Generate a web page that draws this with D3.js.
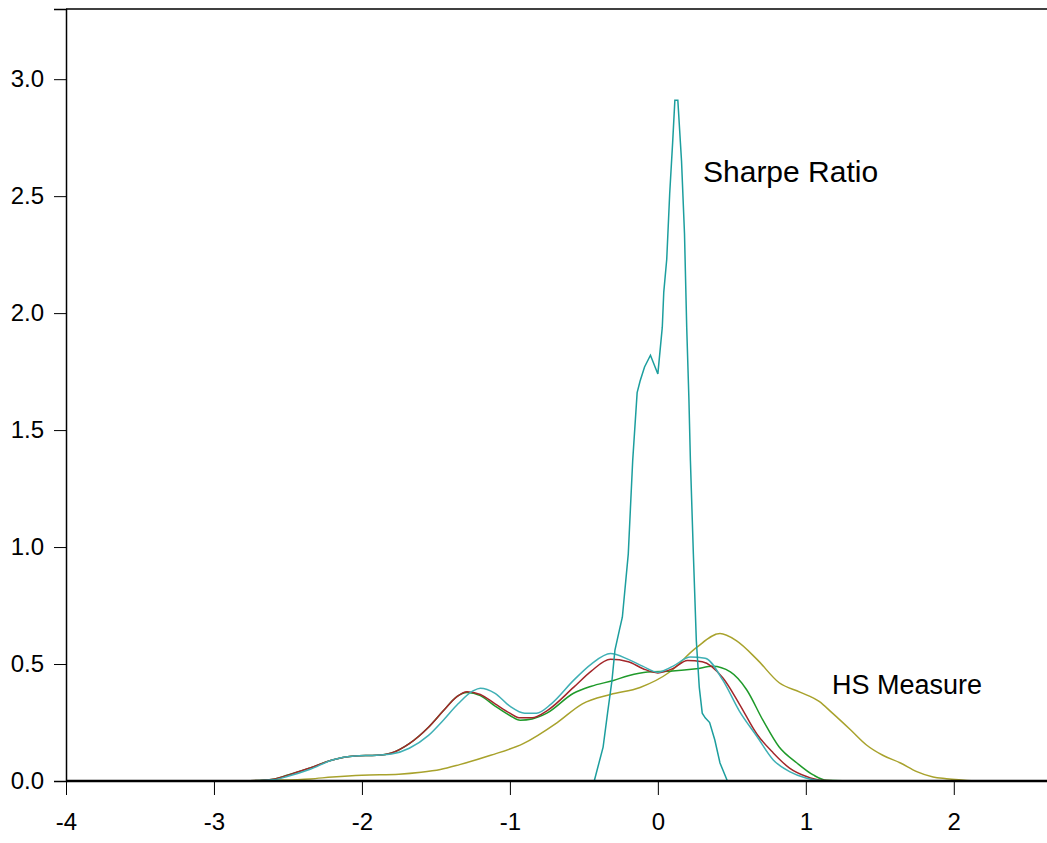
<!DOCTYPE html>
<html>
<head>
<meta charset="utf-8">
<script src="https://cdn.jsdelivr.net/npm/d3@7"></script>
<style>
  body { margin: 0; background: #fff; }
  svg { display: block; font-family: "Liberation Sans", Arial, sans-serif; }
  .tick line { stroke: #000; }
  .tick text { fill: #000; font-size: 24px; }
</style>
</head>
<body>
<svg id="chart" width="1047" height="843"></svg>
<script>
// tick labels
var xTicks = [-4, -3, -2, -1, 0, 1, 2];
var yTicks = [0, 0.5, 1.0, 1.5, 2.0, 2.5, 3.0];

// Sharpe Ratio (narrow, tall)
var sharpeX = [-0.43, -0.37, -0.34, -0.31, -0.29, -0.26, -0.24, -0.2, -0.17, -0.14, -0.12, -0.09, -0.05, 0.0, 0.03, 0.04, 0.06, 0.08, 0.1, 0.115, 0.135, 0.16, 0.18, 0.195, 0.21, 0.22, 0.24, 0.26, 0.28, 0.3, 0.32, 0.35, 0.385, 0.42, 0.47];
var sharpeY = [0, 0.145, 0.29, 0.43, 0.56, 0.645, 0.7, 0.97, 1.37, 1.66, 1.71, 1.77, 1.82, 1.74, 1.94, 2.09, 2.23, 2.51, 2.73, 2.91, 2.91, 2.65, 2.34, 1.94, 1.63, 1.37, 0.97, 0.6, 0.4, 0.29, 0.27, 0.25, 0.175, 0.077, 0];

// broad light teal
var tealX = [-2.8, -2.6, -2.5, -2.35, -2.2, -2.05, -1.9, -1.8, -1.68, -1.55, -1.45, -1.35, -1.25, -1.2, -1.1, -1.0, -0.9, -0.82, -0.72, -0.57, -0.45, -0.32, -0.2, -0.1, 0.0, 0.1, 0.22, 0.32, 0.44, 0.55, 0.67, 0.78, 0.89, 1.0, 1.1, 1.35];
var tealY = [0, 0.005, 0.02, 0.05, 0.09, 0.107, 0.11, 0.115, 0.14, 0.195, 0.26, 0.33, 0.385, 0.397, 0.375, 0.32, 0.29, 0.29, 0.33, 0.43, 0.5, 0.545, 0.52, 0.49, 0.465, 0.49, 0.53, 0.525, 0.43, 0.3, 0.19, 0.09, 0.04, 0.013, 0.002, 0];

// red
var redX = [-2.8, -2.6, -2.5, -2.35, -2.2, -2.05, -1.9, -1.8, -1.68, -1.55, -1.45, -1.36, -1.29, -1.2, -1.1, -1.0, -0.93, -0.85, -0.75, -0.57, -0.45, -0.32, -0.2, -0.1, 0.0, 0.1, 0.2, 0.3, 0.44, 0.55, 0.67, 0.78, 0.89, 1.0, 1.1, 1.3];
var redY = [0, 0.008, 0.025, 0.056, 0.09, 0.107, 0.11, 0.12, 0.16, 0.23, 0.3, 0.36, 0.382, 0.37, 0.33, 0.29, 0.27, 0.27, 0.3, 0.4, 0.47, 0.52, 0.51, 0.48, 0.462, 0.48, 0.515, 0.51, 0.44, 0.33, 0.2, 0.12, 0.055, 0.02, 0.003, 0];

// green
var greenX = [-2.8, -2.6, -2.5, -2.35, -2.2, -2.05, -1.9, -1.8, -1.68, -1.55, -1.45, -1.36, -1.29, -1.2, -1.1, -1.0, -0.93, -0.85, -0.75, -0.57, -0.45, -0.3, -0.2, -0.07, 0.1, 0.26, 0.37, 0.49, 0.6, 0.71, 0.82, 0.94, 1.05, 1.14, 1.4];
var greenY = [0, 0.008, 0.026, 0.056, 0.09, 0.107, 0.11, 0.12, 0.16, 0.23, 0.3, 0.36, 0.378, 0.365, 0.32, 0.28, 0.26, 0.265, 0.29, 0.375, 0.405, 0.43, 0.45, 0.466, 0.47, 0.48, 0.49, 0.466, 0.39, 0.26, 0.145, 0.077, 0.026, 0.003, 0];

// HS Measure (olive)
var hsX = [-2.85, -2.6, -2.35, -2.2, -2.0, -1.75, -1.6, -1.47, -1.34, -1.13, -0.91, -0.68, -0.51, -0.32, -0.12, 0.08, 0.26, 0.42, 0.53, 0.67, 0.82, 0.96, 1.09, 1.18, 1.3, 1.41, 1.52, 1.64, 1.75, 1.86, 1.95, 2.15];
var hsY = [0, 0.003, 0.009, 0.017, 0.025, 0.029, 0.037, 0.049, 0.07, 0.11, 0.16, 0.25, 0.33, 0.37, 0.4, 0.466, 0.57, 0.63, 0.6, 0.52, 0.42, 0.38, 0.34, 0.29, 0.22, 0.154, 0.11, 0.077, 0.04, 0.017, 0.01, 0];

var chartWidth = 1047,
    marginLeft = 66,
    marginTop = 9,
    baseY = 781;

var x = d3.scaleLinear().domain([-4, 2.63]).range([marginLeft, chartWidth]);
var y = d3.scaleLinear().domain([0, 3.3]).range([baseY, marginTop]);

var svg = d3.select("#chart");

// top frame line
svg.append("line")
    .attr("x1", x(-4)).attr("x2", chartWidth)
    .attr("y1", y(3.3)).attr("y2", y(3.3))
    .attr("stroke", "#000").attr("stroke-width", 1.5);

svg.append("g")
    .attr("transform", "translate(" + marginLeft + ",0)")
    .call(d3.axisLeft(y).tickValues(yTicks).tickSize(12).tickPadding(10).tickFormat(d3.format(".1f")))
    .call(g => g.select(".domain").attr("stroke", "#000").attr("stroke-width", 1.5));

svg.append("g")
    .attr("transform", "translate(0," + baseY + ")")
    .call(d3.axisBottom(x).tickValues(xTicks).tickSize(14).tickPadding(18).tickFormat(d => String(d)))
    .call(g => g.select(".domain").remove());

function curve(xs, ys) {
    return xs.map((v, i) => ({x: v, y: ys[i]}));
}

var smooth = d3.line()
    .x(d => x(d.x))
    .y(d => y(d.y))
    .curve(d3.curveMonotoneX);

var sharp = d3.line()
    .x(d => x(d.x))
    .y(d => y(d.y));

var series = [
    {pts: curve(hsX, hsY), color: "#a8a22c", line: smooth},
    {pts: curve(greenX, greenY), color: "#1f9a2a", line: smooth},
    {pts: curve(redX, redY), color: "#a3262a", line: smooth},
    {pts: curve(tealX, tealY), color: "#3fb0b5", line: smooth},
    {pts: curve(sharpeX, sharpeY), color: "#1c9e9e", line: sharp}
];

svg.selectAll(".density")
    .data(series)
    .enter().append("path")
    .attr("class", "density")
    .attr("fill", "none")
    .attr("stroke", d => d.color)
    .attr("stroke-width", 1.5)
    .attr("d", d => d.line(d.pts));

// thick baseline
svg.append("line")
    .attr("x1", x(-4)).attr("x2", chartWidth)
    .attr("y1", y(0)).attr("y2", y(0))
    .attr("stroke", "#000").attr("stroke-width", 2.5);

svg.append("text")
    .attr("x", 703).attr("y", 182)
    .attr("font-size", 30)
    .text("Sharpe Ratio");

svg.append("text")
    .attr("x", 832).attr("y", 694)
    .attr("font-size", 27)
    .text("HS Measure");
</script>
</body>
</html>
